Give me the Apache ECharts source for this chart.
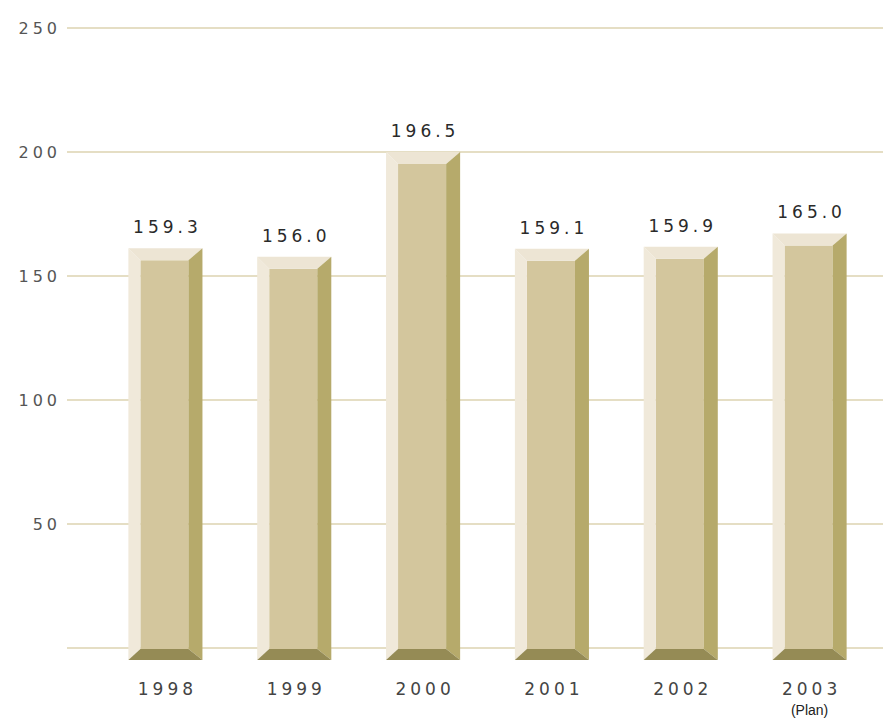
<!DOCTYPE html>
<html lang="en">
<head>
    <meta charset="UTF-8">
    <title>Bar chart 1998-2003</title>
    <script src="https://cdn.jsdelivr.net/npm/echarts@6/dist/echarts.min.js"></script>
    <style>
        html, body { margin: 0; padding: 0; background: #fff; }
        #main text { letter-spacing: 4px; }
        #main text[style*="Liberation"] { letter-spacing: 0; }
    </style>
</head>
<body>
    <div id="main" style="width: 883px;height: 719px"></div>
    <script type="application/javascript">
        // data
        var years = ['1998', '1999', '2000', '2001', '2002', '2003'];
        var values = [159.3, 156.0, 196.5, 159.1, 159.9, 165.0];
        var yTicks = [0, 50, 100, 150, 200, 250];
        var planYear = '2003';

        var myChart = echarts.init(document.getElementById('main'), null, {renderer: 'svg'});

        var barData = [];
        for (var i = 0; i < years.length; i++) {
            barData.push([i, values[i]]);
        }

        // bevelled bar: front face + 4 trapezoid edges
        function renderBar(params, api) {
            var idx = api.value(0), v = api.value(1);
            var base = api.coord([idx, 0]);
            var top = api.coord([idx, v]);
            var w = api.size([1, 0])[0] * 0.575;
            var x0 = base[0] - w / 2, x1 = base[0] + w / 2;
            var y0 = top[1], y1 = base[1];
            var bl = 12, br = 14, bt = 12, bb = 11;
            function poly(pts, color) {
                return {type: 'polygon', shape: {points: pts}, style: {fill: color}};
            }
            return {
                type: 'group',
                children: [
                    {type: 'rect', shape: {x: x0 + bl, y: y0 + bt, width: w - bl - br, height: y1 - y0 - bt - bb},
                        style: {fill: '#d3c69d'}},
                    poly([[x0, y0], [x0 + bl, y0 + bt], [x0 + bl, y1 - bb], [x0, y1]], '#f0e9da'),
                    poly([[x0, y0], [x1, y0], [x1 - br, y0 + bt], [x0 + bl, y0 + bt]], '#ede5d4'),
                    poly([[x1, y0], [x1, y1], [x1 - br, y1 - bb], [x1 - br, y0 + bt]], '#b6aa6b'),
                    poly([[x0, y1], [x0 + bl, y1 - bb], [x1 - br, y1 - bb], [x1, y1]], '#958b55'),
                    {type: 'text', x: base[0] + 2, y: y0 - 21,
                        style: {text: v.toFixed(1), align: 'center', verticalAlign: 'middle',
                            fontFamily: 'DejaVu Sans', fontSize: 17, fill: '#2a2a2a'}}
                ]
            };
        }

        var option = {
            backgroundColor: '#ffffff',
            animation: false,
            grid: [
                {left: 67, right: 0, top: 28, bottom: 71, outerBoundsMode: 'none', containLabel: false},
                {left: 101, right: 9, top: 13.75, bottom: 59, outerBoundsMode: 'none', containLabel: false}
            ],
            xAxis: [
                {gridIndex: 0, type: 'category', data: years, show: false},
                {
                    gridIndex: 1, type: 'category', data: years,
                    axisLine: {show: false}, axisTick: {show: false},
                    axisLabel: {
                        margin: 20,
                        formatter: function (val) {
                            return val === planYear ? '{y|' + val + '}\n{p|(Plan)}' : '{y|' + val + '}';
                        },
                        rich: {
                            y: {fontFamily: 'DejaVu Sans', fontSize: 17, color: '#444', lineHeight: 18, padding: [0, 0, 0, 4]},
                            p: {fontFamily: 'Liberation Sans', fontSize: 14, color: '#222', lineHeight: 24, verticalAlign: 'middle'}
                        }
                    }
                }
            ],
            yAxis: [
                {
                    gridIndex: 0, type: 'value', min: yTicks[0], max: yTicks[yTicks.length - 1], interval: 50,
                    axisLine: {show: false}, axisTick: {show: false},
                    splitLine: {lineStyle: {color: '#ddd3b0', width: 1.5}},
                    axisLabel: {
                        margin: 6,
                        fontFamily: 'DejaVu Sans', fontSize: 16, color: '#555',
                        formatter: function (val) { return val === 0 ? '' : String(val); }
                    }
                },
                {gridIndex: 1, type: 'value', min: 0, max: 250, show: false}
            ],
            series: [
                {
                    type: 'custom',
                    xAxisIndex: 1,
                    yAxisIndex: 1,
                    renderItem: renderBar,
                    encode: {x: 0, y: 1},
                    data: barData
                }
            ]
        };
        myChart.setOption(option);
    </script>
</body>
</html>
